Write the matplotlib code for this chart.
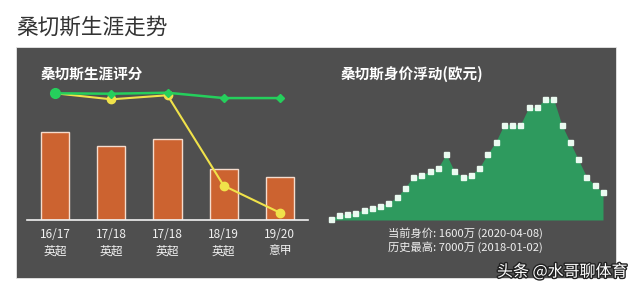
import matplotlib
matplotlib.use('Agg')
import matplotlib.pyplot as plt
import matplotlib.patches as patches
import matplotlib.patheffects as pe
import numpy as np

plt.rcParams['font.family'] = ['Noto Sans CJK SC', 'DejaVu Sans']

### data
seasons = ['16/17\n英超', '17/18\n英超', '17/18\n英超', '18/19\n英超', '19/20\n意甲']
bar_vals = [62.6, 52.6, 58.1, 36.4, 30.9]
green_vals = [90.5, 90.2, 90.9, 87.1, 87.1]
yellow_vals = [90.5, 86.2, 89.1, 24.5, 5.2]

# market value, 万欧元
value_wan = [50, 300, 350, 400, 600, 700, 800, 1000, 1300, 1850, 2500, 2600,
             2800, 3000, 3800, 2800, 2500, 2600, 3000, 3800, 4500, 5500, 5500,
             5500, 6500, 6500, 7000, 7000, 5500, 4500, 3500, 2500, 2000, 1600]
info_lines = ['当前身价: 1600万 (2020-04-08)', '历史最高: 7000万 (2018-01-02)']

W, H = 640, 295
def box(x0, y0, x1, y1):
    # pixel box (top-left origin) -> figure fraction [l, b, w, h]
    return [x0 / W, 1 - y1 / H, (x1 - x0) / W, (y1 - y0) / H]

fig = plt.figure(figsize=(6.4, 2.95), dpi=100)
fig.patch.set_facecolor('white')

fig.text(16 / W, 1 - 28 / H, '桑切斯生涯走势', fontsize=15.6, color='#333333',
         va='center', ha='left')

# dark panel
fig.patches.append(patches.Rectangle((16 / W, 1 - 278 / H), 600 / W, 231 / H,
                                     transform=fig.transFigure, facecolor='#4f4f4f',
                                     edgecolor='#e6e6e6', lw=0.6, zorder=-10))

fig.text(41 / W, 1 - 74 / H, '桑切斯生涯评分', fontsize=10.5, color='white',
         fontweight='bold', va='center', ha='left')
fig.text(341 / W, 1 - 74 / H, '桑切斯身价浮动(欧元)', fontsize=10.5, color='white',
         fontweight='bold', va='center', ha='left')

### left: career ratings
ax = fig.add_axes(box(27, 80, 308, 220))
ax.patch.set_alpha(0)
x = np.arange(len(seasons))
ax.bar(x, bar_vals, width=0.5, color='#cc6330', edgecolor='#f5dccd', lw=1, zorder=2)
ax.plot(x, yellow_vals, color='#f0e24a', lw=1.5, marker='o', ms=6, zorder=3, clip_on=False)
ax.plot(x, green_vals, color='#25cf5c', lw=1.8, marker='D', ms=4, zorder=4, clip_on=False)
ax.plot(x[0], green_vals[0], marker='o', ms=7, color='#25cf5c', zorder=5, clip_on=False)
ax.set_xlim(-0.5, 4.5)
ax.set_ylim(0, 100)
for s in ['top', 'right', 'left']:
    ax.spines[s].set_visible(False)
ax.spines['bottom'].set_color('#f0f0f0')
ax.spines['bottom'].set_linewidth(1.2)
ax.set_yticks([])
ax.set_xticks(x)
ax.set_xticklabels(seasons, color='#f0f0f0', fontsize=8.5, linespacing=1.3)
ax.tick_params(axis='x', length=0, pad=6)

### right: market value
ax2 = fig.add_axes(box(330.7, 98.7, 603, 220))
ax2.patch.set_alpha(0)
xi = np.arange(len(value_wan))
ax2.fill_between(xi, value_wan, 0, color='#2e9a5e', lw=0, zorder=1)
ax2.plot(xi, value_wan, ls='none', marker='s', ms=3.6, color='#eafaf0', zorder=3, clip_on=False)
ax2.set_xlim(0, len(value_wan) - 1)
ax2.set_ylim(0, max(value_wan))
ax2.axis('off')

fig.text(465 / W, 1 - 233 / H, info_lines[0], fontsize=8.1, color='#f0f0f0', ha='center', va='center')
fig.text(465 / W, 1 - 247 / H, info_lines[1], fontsize=8.1, color='#f0f0f0', ha='center', va='center')

# watermark
fig.text(497 / W, 1 - 272 / H, '头条 @水哥聊体育', fontsize=11.5, color='white', ha='left', va='center',
         path_effects=[pe.withStroke(linewidth=2, foreground='#222222')])

fig.savefig('out.png', dpi=100)
